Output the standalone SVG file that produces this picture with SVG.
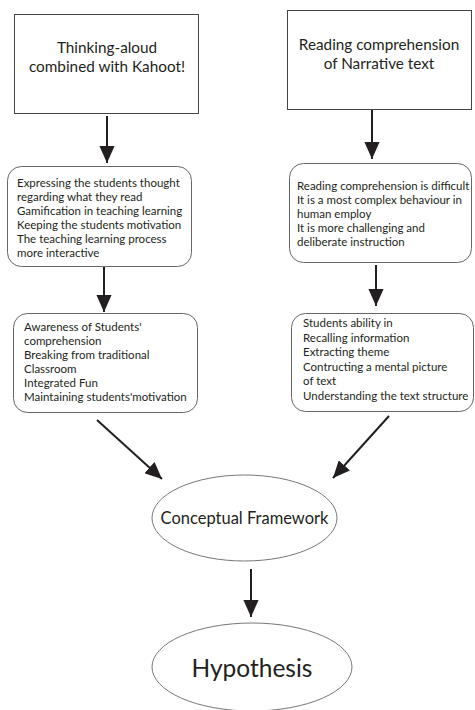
<svg xmlns="http://www.w3.org/2000/svg" width="475" height="710" viewBox="0 0 475 710">
<defs>
<marker id="ah" markerWidth="8.5" markerHeight="7.6" refX="8.5" refY="3.8" orient="auto" markerUnits="strokeWidth">
<path d="M0,0 L8.5,3.8 L0,7.6 Z" fill="#231f20"/>
</marker>
<style>
.t{font-family:Lato,"Noto Sans",sans-serif;fill:#231f20}
.s{font-size:11.5px}
.h{font-size:15.3px}
.box{fill:#fff;stroke:#444;stroke-width:1}
.rb{fill:#fff;stroke:#666;stroke-width:1}
.el{fill:#fff;stroke:#777;stroke-width:1}
.c{stroke:#231f20;stroke-width:2;fill:none;marker-end:url(#ah)}
</style>
</defs>
<rect width="475" height="710" fill="#fff"/>
<g id="connectors">
<line class="c" x1="107" y1="116" x2="107" y2="163"/>
<line class="c" x1="372" y1="110" x2="372" y2="159"/>
<line class="c" x1="104" y1="267" x2="104" y2="312"/>
<line class="c" x1="376" y1="265" x2="376" y2="306"/>
<line class="c" x1="97" y1="420" x2="162" y2="479"/>
<line class="c" x1="389" y1="416" x2="333" y2="478"/>
<line class="c" x1="251" y1="569" x2="251" y2="617"/>
</g>
<g id="n1">
<rect class="box" x="14.5" y="14.5" width="184" height="99"/>
<text class="t h" x="107" y="53" text-anchor="middle">Thinking-aloud</text>
<text class="t h" x="107" y="72" text-anchor="middle">combined with Kahoot!</text>
</g>
<g id="n2">
<rect class="box" x="287.5" y="10.5" width="184" height="99"/>
<text class="t h" x="379" y="50" text-anchor="middle">Reading comprehension</text>
<text class="t h" x="379" y="69" text-anchor="middle">of Narrative text</text>
</g>
<g id="n3">
<rect class="rb" x="7.5" y="166.5" width="184" height="100" rx="14"/>
<text class="t s" x="17" y="187">Expressing the students thought</text>
<text class="t s" x="17" y="201">regarding what they read</text>
<text class="t s" x="17" y="215">Gamification in teaching learning</text>
<text class="t s" x="17" y="229">Keeping the students motivation</text>
<text class="t s" x="17" y="243">The teaching learning process</text>
<text class="t s" x="17" y="257">more interactive</text>
</g>
<g id="n4">
<rect class="rb" x="289.5" y="163.5" width="182" height="99" rx="14"/>
<text class="t s" x="297" y="190">Reading comprehension is difficult</text>
<text class="t s" x="297" y="204">It is a most complex behaviour in</text>
<text class="t s" x="297" y="218">human employ</text>
<text class="t s" x="297" y="232">It is more challenging and</text>
<text class="t s" x="297" y="246">deliberate instruction</text>
</g>
<g id="n5">
<rect class="rb" x="13.5" y="313.5" width="184" height="99" rx="14"/>
<text class="t s" x="24" y="331">Awareness of Students'</text>
<text class="t s" x="24" y="345">comprehension</text>
<text class="t s" x="24" y="359">Breaking from traditional</text>
<text class="t s" x="24" y="373">Classroom</text>
<text class="t s" x="24" y="387">Integrated Fun</text>
<text class="t s" x="24" y="401">Maintaining students'motivation</text>
</g>
<g id="n6">
<rect class="rb" x="291.5" y="313.5" width="182" height="98" rx="14"/>
<text class="t s" x="303" y="327">Students ability in</text>
<text class="t s" x="303" y="341.5">Recalling information</text>
<text class="t s" x="303" y="356">Extracting theme</text>
<text class="t s" x="303" y="370.5">Contructing a mental picture</text>
<text class="t s" x="303" y="385">of text</text>
<text class="t s" x="303" y="399.5">Understanding the text structure</text>
</g>
<g id="n7">
<ellipse class="el" cx="244.5" cy="518" rx="92.5" ry="43"/>
<text class="t" x="244.5" y="523.5" font-size="16.5" text-anchor="middle">Conceptual Framework</text>
</g>
<g id="n8">
<ellipse class="el" cx="252" cy="667" rx="100" ry="44"/>
<text class="t" x="252" y="677" font-size="24.5" text-anchor="middle">Hypothesis</text>
</g>
</svg>
